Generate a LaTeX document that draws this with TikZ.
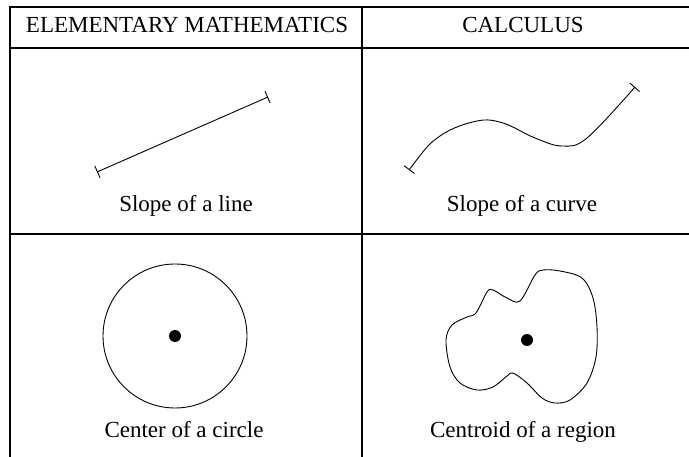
\documentclass[tikz,border=0pt]{standalone}
\usepackage{fontspec}
\setmainfont{Liberation Serif}
\usetikzlibrary{arrows.meta}

\begin{document}
\begin{tikzpicture}[
    x=1pt,y=-1pt,
    rule/.style={line width=2pt},
    sketch/.style={line width=0.9pt,line join=round},
    ticked/.style={sketch,{Bar[width=13pt]}-{Bar[width=13pt]}},
    caption/.style={font=\fontsize{23}{27}\selectfont,anchor=base,inner sep=0pt}
]
    \useasboundingbox (0,0) rectangle (689,457);

    % table rules
    \foreach \y in {7,48,234}
        \draw[rule] (9,\y) -- (689,\y);
    \foreach \x in {10,362}
        \draw[rule] (\x,6) -- (\x,457);

    % header
    \node[caption] (head-elem) at (187,33) {ELEMENTARY MATHEMATICS};
    \node[caption] (head-calc) at (523,33) {CALCULUS};

    % slope of a line
    \coordinate (line-a) at (97,172);
    \coordinate (line-b) at (268,97);
    \draw[ticked] (line-a) -- (line-b);
    \node[caption] (cap-line) at (186,212) {Slope of a line};

    % slope of a curve
    \draw[ticked] plot[smooth,tension=0.6] coordinates {
        (409,170) (440,136) (477,121) (503,123) (535,138)
        (562,146) (587,138) (635,87)};
    \node[caption] (cap-curve) at (522,212) {Slope of a curve};

    % center of a circle
    \draw[sketch] (175,336) circle[radius=72];
    \fill (175,336) circle[radius=6];
    \node[caption] (cap-circle) at (184,438) {Center of a circle};

    % centroid of a region
    \draw[sketch] plot[smooth cycle,tension=0.55] coordinates {
        (446,340) (452,325) (467,317) (476,313) (487,292) (493,290)
        (507,298) (520,301) (535,275) (543,270) (560,271) (582,278)
        (593,298) (597,327) (596,357) (587,383) (570,400) (555,403)
        (542,398) (527,383) (513,373) (507,376) (493,387) (477,390)
        (460,383) (450,367)};
    \fill (527,340) circle[radius=6];
    \node[caption] (cap-region) at (523,437) {Centroid of a region};

\end{tikzpicture}
\end{document}
